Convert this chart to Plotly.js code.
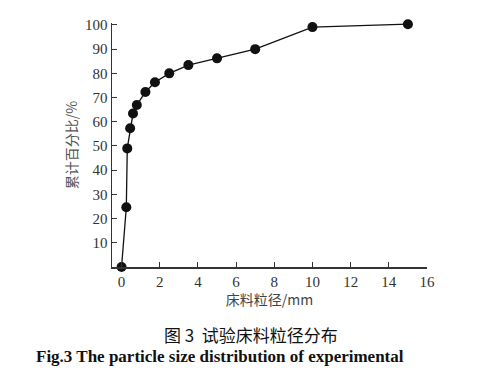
<!DOCTYPE html>
<html><head><meta charset="utf-8">
<script src="https://cdn.plot.ly/plotly-3.0.1.min.js"></script>
<style>body{margin:0;background:#fff}#c{width:500px;height:372px}</style>
</head><body><div id="c"></div>
<script>
const sizeMm = [0, 0.25, 0.3, 0.45, 0.6, 0.8, 1.25, 1.75, 2.5, 3.5, 5, 7, 10, 15];
const cumPct = [0, 24.7, 49, 57.3, 63.4, 66.9, 72.3, 76.3, 80, 83.4, 86.2, 90, 99.1, 100.3];
const xTicks = [0, 2, 4, 6, 8, 10, 12, 14, 16];
const yTicks = [10, 20, 30, 40, 50, 60, 70, 80, 90, 100];
const xTitle = '床料粒径/mm';
const yTitle = '累计百分比/%';
const captionZh = '图 3  试验床料粒径分布';
const captionEn = 'Fig.3 The particle size distribution of experimental';

const serif = 'Liberation Serif, Times New Roman, serif';
const cjk = 'Noto Sans CJK SC, sans-serif';

Plotly.newPlot('c', [{
  x: sizeMm, y: cumPct, type: 'scatter', mode: 'lines+markers',
  line: {color: '#111', width: 1.3},
  marker: {color: '#111', size: 10},
  cliponaxis: false
}], {
  width: 500, height: 372,
  margin: {l: 112, r: 73, t: 23, b: 105},
  paper_bgcolor: '#fff', plot_bgcolor: '#fff',
  showlegend: false,
  xaxis: {
    range: [-0.5, 16], tickvals: xTicks, ticks: 'inside', ticklen: 5, tickcolor: '#333',
    showline: true, linecolor: '#333', linewidth: 1.5, showgrid: false, zeroline: false,
    tickfont: {family: serif, size: 15, color: '#333'},
    title: {text: xTitle, font: {family: cjk, size: 14, color: '#444'}, standoff: 5}
  },
  yaxis: {
    range: [0, 100.8], tickvals: yTicks, ticks: 'inside', ticklen: 5, tickcolor: '#333',
    showline: true, linecolor: '#333', linewidth: 1.5, showgrid: false, zeroline: false,
    tickfont: {family: serif, size: 15, color: '#333'},
    title: {text: yTitle, font: {family: cjk, size: 14, color: '#555'}, standoff: 4}
  },
  annotations: [
    {text: captionZh, xref: 'paper', yref: 'paper', x: (251-112)/315, y: -(334-267)/244,
     xanchor: 'center', yanchor: 'middle', showarrow: false,
     font: {family: cjk, size: 17, color: '#111'}},
    {text: '<b>' + captionEn + '</b>', xref: 'paper', yref: 'paper', x: (34-112)/315, y: -(356-267)/244,
     xanchor: 'left', yanchor: 'middle', showarrow: false,
     font: {family: serif, size: 17, color: '#111'}}
  ]
}, {staticPlot: true});
</script></body></html>
